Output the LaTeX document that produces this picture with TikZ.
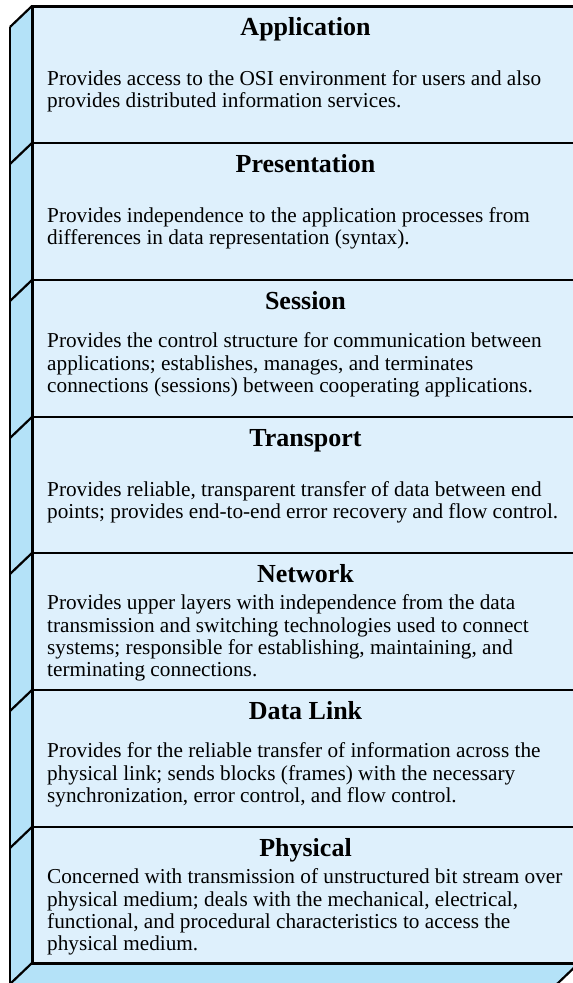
\documentclass[tikz,border=0pt]{standalone}
\usepackage{fontspec}
\setmainfont{Liberation Serif}
\definecolor{frontc}{RGB}{222,240,252}
\definecolor{sidec}{RGB}{180,226,248}
\begin{document}
\begin{tikzpicture}[x=1pt,y=-1pt,
  layertitle/.style={font=\fontsize{26}{30}\selectfont\bfseries, anchor=base, inner sep=0pt},
  layerdesc/.style={font=\fontsize{21.25}{22.3}\selectfont, align=left, anchor=west, inner sep=0pt},
  outline/.style={line width=3pt, line join=miter},
  divider/.style={line width=2.6pt},
  sideline/.style={line width=2.2pt}]
\useasboundingbox (0,0) rectangle (573,983);
\clip (0,0) rectangle (573,983);
% faces
\fill[frontc] (32,6) rectangle (579,963);
\fill[sidec] (10,27) -- (32,6) -- (32,963) -- (10,984) -- cycle;
\fill[sidec] (32,963) -- (579,963) -- (557,984) -- (10,984) -- cycle;
% dividers and diagonals
\foreach \t in {143,280,417,553,690,827} {
  \draw[divider] (32,\t) -- (579,\t);
  \draw[sideline] (32,\t) -- (10,\t+21);
}
\draw[sideline] (32,6) -- (10,27);
\draw[sideline] (10,27) -- (10,984);
\draw[sideline] (32,963) -- (10,984);
\draw[sideline] (579,963) -- (557,984);
\draw[outline] (579,6) -- (32,6) -- (32,963) -- (579,963);
% texts
\node[layertitle] (t1) at (305.5,35) {Application};
\node[layerdesc] (d1) at (47,91) {Provides access to the OSI environment for users and also\\provides distributed information services.};
\node[layertitle] (t2) at (305.5,172) {Presentation};
\node[layerdesc] (d2) at (47,228) {Provides independence to the application processes from\\differences in data representation (syntax).};
\node[layertitle] (t3) at (305.5,309) {Session};
\node[layerdesc] (d3) at (47,365) {Provides the control structure for communication between\\applications; establishes, manages, and terminates\\connections (sessions) between cooperating applications.};
\node[layertitle] (t4) at (305.5,446) {Transport};
\node[layerdesc] (d4) at (47,502) {Provides reliable, transparent transfer of data between end\\points; provides end-to-end error recovery and flow control.};
\node[layertitle] (t5) at (305.5,582) {Network};
\node[layerdesc] (d5) at (47,638) {Provides upper layers with independence from the data\\transmission and switching technologies used to connect\\systems; responsible for establishing, maintaining, and\\terminating connections.};
\node[layertitle] (t6) at (305.5,719) {Data Link};
\node[layerdesc] (d6) at (47,775) {Provides for the reliable transfer of information across the\\physical link; sends blocks (frames) with the necessary\\synchronization, error control, and flow control.};
\node[layertitle] (t7) at (305.5,856) {Physical};
\node[layerdesc] (d7) at (47,912) {Concerned with transmission of unstructured bit stream over\\physical medium; deals with the mechanical, electrical,\\functional, and procedural characteristics to access the\\physical medium.};
\end{tikzpicture}
\end{document}
